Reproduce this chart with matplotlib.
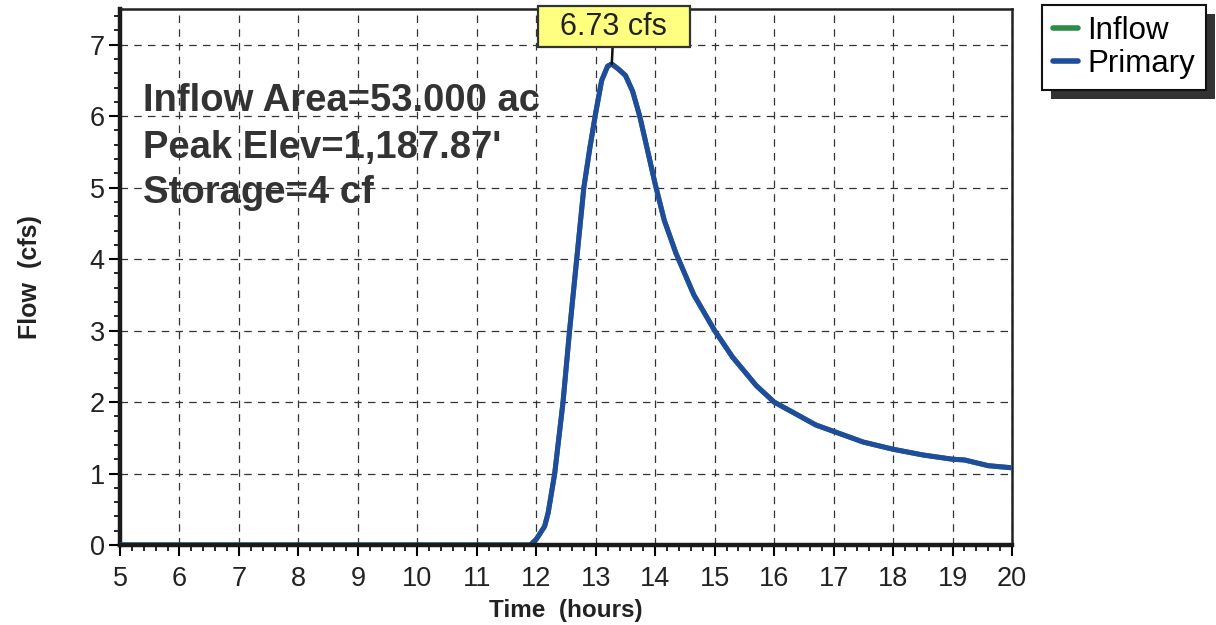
import matplotlib
matplotlib.use("Agg")
import matplotlib.pyplot as plt
from matplotlib.patches import Rectangle
from matplotlib.ticker import MultipleLocator

plt.rcParams['font.family'] = ['Liberation Sans', 'DejaVu Sans']

# hydrograph (hours, cfs)
time_hr = [5.0, 11.9, 12.0, 12.14, 12.2, 12.31, 12.45, 12.56, 12.68, 12.8, 12.9,
           13.0, 13.1, 13.2, 13.27, 13.38, 13.5, 13.62, 13.74, 13.85, 14.0,
           14.15, 14.35, 14.65, 15.0, 15.3, 15.7, 16.0, 16.33, 16.7, 17.0,
           17.5, 18.0, 18.5, 19.0, 19.2, 19.6, 20.0]
primary_cfs = [0.0, 0.0, 0.08, 0.26, 0.45, 1.0, 2.0, 3.0, 4.0, 5.0, 5.55,
               6.05, 6.5, 6.7, 6.73, 6.66, 6.57, 6.35, 6.0, 5.6, 5.05,
               4.55, 4.08, 3.5, 3.0, 2.63, 2.23, 2.0, 1.85, 1.68, 1.59,
               1.44, 1.34, 1.26, 1.2, 1.19, 1.11, 1.08]
# inflow sits right under the primary curve
inflow_cfs = list(primary_cfs)

peak_time = 13.27
peak_cfs = 6.73

info_lines = ["Inflow Area=53.000 ac", "Peak Elev=1,187.87'", "Storage=4 cf"]

fig = plt.figure(figsize=(12.16, 6.25), dpi=100)
ax = fig.add_axes([120 / 1216, 1 - 545 / 625, 892 / 1216, 536 / 625])

ax.plot(time_hr, inflow_cfs, color='#2e8b47', lw=3.6, label='Inflow',
        solid_capstyle='round', solid_joinstyle='round', zorder=3)
ax.plot(time_hr, primary_cfs, color='#1f4c9c', lw=3.6, label='Primary',
        solid_capstyle='round', solid_joinstyle='round', zorder=4)

ax.set_xlim(5, 20)
ax.set_ylim(0, 7.5)
ax.xaxis.set_major_locator(MultipleLocator(1))
ax.xaxis.set_minor_locator(MultipleLocator(0.2))
ax.yaxis.set_major_locator(MultipleLocator(1))
ax.yaxis.set_minor_locator(MultipleLocator(0.2))
ax.grid(True, which='major', color='#333333', lw=0.9, ls=(0, (6, 5)))
ax.set_axisbelow(True)

ax.tick_params(which='major', direction='out', length=8, width=1.5,
               labelsize=19.5, labelcolor='#222222')
ax.tick_params(axis='x', which='major', pad=7)
ax.tick_params(axis='y', which='major', pad=3)
ax.tick_params(which='minor', direction='out', length=4, width=1.2)
for side in ['left', 'bottom']:
    ax.spines[side].set_linewidth(3.2)
    ax.spines[side].set_color('#1a1a1a')
for side in ['top', 'right']:
    ax.spines[side].set_linewidth(1.8)
    ax.spines[side].set_color('#222222')
ax.spines['bottom'].set_zorder(5)

ax.set_xlabel('Time  (hours)', fontsize=17.5, fontweight='bold', color='#222222', labelpad=5)
ax.set_ylabel('Flow  (cfs)', fontsize=18, fontweight='bold', color='#222222', labelpad=34)

ypos = [0.829, 0.741, 0.657]
for line, yy in zip(info_lines, ypos):
    ax.text(0.026, yy, line, transform=ax.transAxes, fontsize=27.5,
            fontweight='bold', color='#333333', va='center', ha='left', zorder=6)

ax.annotate('  %.2f cfs  ' % peak_cfs, xy=(peak_time, peak_cfs), xytext=(13.3, 7.25),
            ha='center', va='center', fontsize=22, color='#222222',
            annotation_clip=False, zorder=7,
            bbox=dict(boxstyle='square,pad=0.18', fc='#ffff80', ec='#333333', lw=1.6),
            arrowprops=dict(arrowstyle='-', color='#111111', lw=1.8, shrinkA=0, shrinkB=0))

leg = fig.legend(loc='upper left', bbox_to_anchor=(1042 / 1216, 1 - 5 / 625),
                 borderaxespad=0, fontsize=22.5, handlelength=0.8, handletextpad=0.3,
                 labelspacing=0.1, borderpad=0.35, fancybox=False, framealpha=1,
                 edgecolor='#111111')
leg.get_frame().set_linewidth(1.5)
for h in leg.legend_handles:
    h.set_linewidth(4)

fig.canvas.draw()
bb = leg.get_window_extent()
shadow = Rectangle((bb.x0 + 9, bb.y0 - 9), bb.width, bb.height, transform=None,
                   fc='#333333', ec='none', zorder=leg.get_zorder() - 1)
fig.add_artist(shadow)

fig.savefig('out.png', dpi=100)
